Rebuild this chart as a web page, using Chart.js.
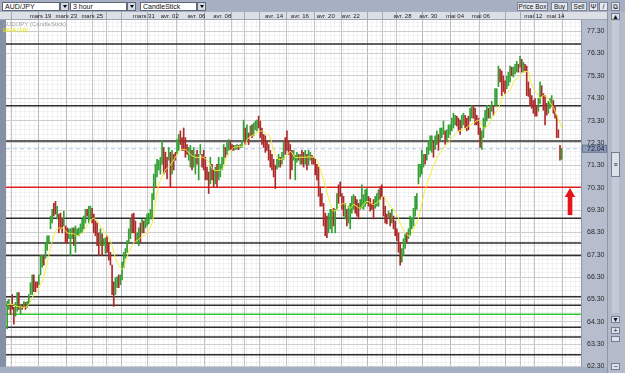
<!DOCTYPE html>
<html><head><meta charset="utf-8">
<script src="https://cdn.jsdelivr.net/npm/chart.js@4.4.1/dist/chart.umd.min.js"></script>
<style>
html,body{margin:0;padding:0;}
body{width:625px;height:373px;overflow:hidden;position:relative;background:#a7b0c3;font-family:'Liberation Sans',Arial,sans-serif;}
.tb{position:absolute;top:2px;height:9px;box-sizing:border-box;font-size:7px;line-height:7px;color:#111;white-space:nowrap;overflow:hidden;}
.dd{background:#fff;border:1px solid #5f687b;padding-left:2px;}
.ddb{background:#d6dae3;border:1px solid #5f687b;width:9px;}
.ddb::after{content:"";position:absolute;left:1.5px;top:2px;border-left:2.5px solid transparent;border-right:2.5px solid transparent;border-top:3px solid #000;}
.btn{background:#e6e9ef;border:1px solid #79839a;text-align:center;}
#wrap{position:absolute;left:0;top:12px;width:607px;height:361px;}
.lg{position:absolute;left:3px;font-size:6px;line-height:6px;font-family:'Liberation Sans',Arial,sans-serif;white-space:nowrap;}
#sb{position:absolute;left:607px;top:12px;width:18px;height:361px;background:#b3bbcb;border-left:1px solid #8c95a9;box-sizing:border-box;}
.sbx{position:absolute;left:3px;width:9px;box-sizing:border-box;background:#dde1e9;border:1px solid #737d93;font-size:7px;line-height:6px;text-align:center;color:#111;}
</style></head><body>
<div class="tb dd" style="left:2px;width:58px;">AUD/JPY</div><div class="tb ddb" style="left:60px;"></div>
<div class="tb dd" style="left:70px;width:57px;">3 hour</div><div class="tb ddb" style="left:127px;"></div>
<div class="tb dd" style="left:140px;width:57px;">CandleStick</div><div class="tb ddb" style="left:197px;"></div>
<div class="tb btn" style="left:517px;width:31px;font-size:6.5px;">Price Box</div>
<div class="tb btn" style="left:551px;width:17px;font-size:6.5px;">Buy</div>
<div class="tb btn" style="left:571px;width:16px;font-size:6.5px;">Sell</div>
<div class="tb btn" style="left:589px;width:9px;">Ψ</div>
<div class="tb btn" style="left:599px;width:9px;">/</div>
<div class="tb btn" style="left:611px;width:9px;">⧉</div>
<div id="wrap"><canvas id="c" width="607" height="361" style="width:607px;height:361px;display:block;"></canvas></div>
<div class="lg" style="top:21px;color:#9c9c9c;">AUD/JPY (CandleStick)</div>
<div class="lg" style="top:27px;color:#e4e400;">EMA (10)</div>
<div id="sb">
  <div class="sbx" style="top:1px;height:7px;">▲</div>
  <div style="position:absolute;left:4px;top:9px;width:7px;height:292px;background:#c3c9d5;"></div>
  <div class="sbx" style="top:140px;height:25px;line-height:24px;">≡</div>
  <div class="sbx" style="top:304px;height:7px;">▼</div>
  <div class="sbx" style="top:315px;height:7px;">+</div>
  <div class="sbx" style="top:324px;height:6px;"></div>
  <div class="sbx" style="top:351px;height:7px;">−</div>
</div>
<script>
// ---- data ----
const dayLabels = ['mars 19','mars 23','mars 25','','','mars 31','avr. 02','avr. 06','avr. 08','','','avr. 14','avr. 16','avr. 20','avr. 22','','','avr. 28','avr. 30','mai 04','mai 06','','','mai 12','mai 14'];
const dayStartBar = [3,19,36,52,60,69,85,102,119,135,143,152,168,185,201,217,226,234,250,267,284,300,309,317,334];
const priceTicks = [62.30,63.30,64.30,65.30,66.30,67.30,68.30,69.30,70.30,71.30,72.30,73.30,74.30,75.30,76.30,77.30];
const blackLevels = [76.73,73.97,72.39,68.93,67.83,67.27,65.42,65.04,64.06,63.62,62.83];
const redLevel = 70.32;
const greenLevel = 64.64;
const arrowMark = {bar: 338, tip: 70.02, shaftTop: 69.95, shaftBottom: 69.09};
const firstOpen = 64.25;
const highs = [
65.23,65.30,65.08,65.52,64.95,65.17,65.61,65.61,65.08,65.08,
65.21,65.17,65.21,65.52,66.05,66.40,66.40,66.09,66.09,66.40,
67.27,67.27,67.27,67.80,68.15,68.15,69.03,69.33,69.60,69.69,
69.47,69.12,69.16,68.94,69.25,68.59,68.50,68.46,68.46,68.50,
68.50,68.59,68.46,68.50,68.68,68.90,69.03,69.33,69.33,69.47,
69.47,69.38,69.12,68.81,68.72,68.28,68.46,68.24,68.02,68.06,
68.15,67.80,67.41,66.84,66.09,66.27,66.31,66.40,66.40,66.97,
67.41,67.58,67.93,68.46,68.90,69.12,69.16,68.81,68.28,68.50,
68.72,68.90,68.81,68.90,69.12,69.16,69.33,70.04,70.91,71.35,
71.57,71.53,71.66,72.40,72.10,71.88,71.66,72.10,71.88,71.97,
71.79,71.88,72.45,72.68,72.84,72.54,72.97,72.54,72.23,72.10,
72.19,71.97,72.10,71.79,71.97,71.79,72.23,71.79,71.97,71.66,
71.22,71.00,71.66,71.35,71.09,71.22,71.35,71.66,71.35,71.66,
72.23,72.10,72.32,72.45,72.40,72.23,72.19,72.19,72.23,72.19,
72.23,72.40,73.32,72.97,73.11,72.75,73.06,73.11,73.19,73.28,
73.32,73.50,73.28,72.97,72.68,72.62,72.40,72.23,71.97,71.79,
71.57,71.31,71.57,71.79,71.66,71.88,72.32,72.54,72.84,72.40,
72.23,71.97,71.97,71.75,71.88,71.79,71.79,71.97,71.88,71.97,
71.79,71.97,71.88,71.75,71.66,71.57,71.35,71.22,70.34,70.04,
69.60,69.16,69.03,69.16,69.33,69.33,69.38,69.33,70.04,70.43,
70.56,70.04,69.91,69.60,69.33,69.47,69.60,69.91,69.99,69.91,
69.77,69.60,69.77,70.43,69.99,70.21,70.26,69.91,69.82,69.60,
69.77,69.91,70.04,70.21,70.34,70.43,69.91,69.47,69.12,69.25,
69.16,69.33,69.03,68.81,68.46,68.28,67.84,67.58,68.02,68.24,
68.28,68.46,69.03,68.94,69.38,69.91,70.04,71.35,71.35,71.97,
71.79,71.79,72.10,72.40,72.62,72.62,72.40,72.62,72.84,72.68,
72.97,72.97,73.28,72.84,72.89,73.11,73.11,73.41,73.63,73.54,
73.50,73.41,73.32,73.54,73.63,73.54,73.41,73.50,73.85,73.98,
73.98,73.85,73.54,73.41,72.97,72.84,73.41,73.76,73.98,73.85,
73.98,74.16,73.98,74.73,74.73,75.74,75.60,75.52,75.30,75.08,
75.30,75.47,75.74,75.69,75.69,75.82,75.95,75.82,76.17,76.04,
75.91,75.82,75.74,75.03,74.73,74.42,74.20,74.29,73.98,74.29,
75.03,74.86,74.51,74.42,74.07,74.16,74.29,74.42,74.20,73.98,
73.54,72.89,72.19,72.06];
const lows = [
63.99,64.86,64.64,64.86,64.20,64.56,64.78,64.86,64.64,64.86,
64.95,64.86,64.95,65.08,65.52,65.52,65.65,65.65,65.83,65.96,
66.40,66.75,66.84,67.14,67.49,67.84,68.46,68.72,69.03,69.12,
68.90,68.28,68.46,68.28,68.59,67.84,67.80,68.02,67.27,68.02,
67.71,67.41,68.15,68.15,68.28,68.28,68.46,68.72,69.03,68.72,
68.90,68.72,68.28,68.15,67.71,67.27,67.71,67.27,67.71,67.36,
67.41,67.06,66.84,65.52,64.99,65.52,65.83,65.83,65.96,66.18,
66.71,67.14,67.41,67.84,68.02,68.28,68.28,67.84,67.84,67.71,
67.84,68.28,68.28,68.50,68.59,68.68,68.90,68.90,69.77,70.34,
70.78,71.09,70.91,71.35,70.91,71.00,70.69,71.53,70.34,70.91,
71.09,71.53,71.79,71.97,72.23,71.97,71.97,71.66,71.79,71.53,
71.22,71.09,71.22,70.91,71.35,70.65,71.79,71.22,71.09,70.65,
70.65,70.04,70.47,70.65,70.34,70.47,70.34,70.65,70.78,71.09,
71.35,71.66,71.79,71.97,72.01,71.97,71.97,72.01,72.01,72.01,
72.10,72.10,72.40,72.23,72.40,72.23,72.62,72.54,72.62,72.89,
72.84,72.97,72.54,72.23,72.10,71.88,71.97,71.53,71.22,71.09,
70.78,70.26,71.13,71.22,71.22,71.35,71.57,71.79,71.97,71.79,
70.69,71.09,71.53,70.65,71.44,71.53,71.35,71.35,71.22,71.35,
71.09,71.31,71.53,71.35,71.35,70.87,70.65,69.91,69.47,69.47,
68.59,68.15,68.06,68.28,68.46,68.28,68.59,68.28,69.33,69.60,
69.91,69.33,69.03,68.90,68.59,68.72,68.46,69.16,69.33,69.16,
69.03,68.90,69.33,69.38,69.33,69.47,69.60,69.47,69.25,69.33,
68.90,69.38,69.47,69.47,69.77,69.91,69.03,68.72,68.68,68.94,
68.59,68.72,68.46,68.15,67.93,67.41,66.84,66.97,67.27,67.58,
67.84,68.02,68.15,68.46,68.59,69.03,69.33,70.47,70.78,70.91,
71.22,71.35,71.53,71.79,71.97,71.88,71.66,72.01,72.23,71.97,
72.40,72.54,72.68,72.23,72.40,72.54,72.68,72.84,72.97,73.11,
73.06,72.84,72.68,72.97,73.11,72.97,72.84,72.89,73.28,73.41,
73.41,73.11,73.11,72.68,72.10,72.01,72.54,72.97,73.28,73.41,
73.41,73.72,73.54,73.98,73.98,74.82,75.03,74.42,74.60,74.51,
74.73,74.86,75.03,75.30,75.25,75.39,75.47,75.47,75.69,75.47,
75.47,75.52,74.42,74.38,73.98,73.85,73.63,73.50,73.50,73.72,
74.07,74.38,73.76,73.11,73.54,73.63,73.85,73.98,73.63,73.41,
72.54,72.54,71.53,71.57];
const closes = [
65.05,65.22,64.95,64.90,64.35,65.05,65.45,64.95,65.00,64.90,
65.15,64.92,65.18,65.45,65.95,66.30,66.00,65.92,65.86,66.32,
67.15,67.22,66.95,67.70,68.05,68.12,68.95,69.25,69.15,69.13,
69.40,68.60,68.50,68.45,68.65,67.95,67.85,68.40,68.42,68.45,
67.85,68.30,68.40,68.46,68.62,68.85,68.98,69.28,69.08,69.40,
69.44,68.85,68.40,68.25,67.85,67.45,68.30,67.55,67.95,68.00,
67.55,67.20,66.95,65.80,65.30,66.10,66.25,66.00,66.35,66.90,
67.35,67.52,67.88,68.40,68.80,68.45,68.35,68.00,68.22,68.45,
68.00,68.80,68.35,68.85,69.05,69.10,69.28,69.95,70.80,71.25,
71.45,71.50,71.60,72.30,71.10,71.05,70.80,71.60,70.60,71.85,
71.65,71.56,72.35,72.60,72.30,72.05,72.00,71.90,71.84,72.05,
72.10,71.20,71.60,71.72,71.45,71.70,72.15,71.30,71.15,70.80,
70.70,70.20,71.50,70.80,70.45,71.10,70.50,71.20,71.30,71.60,
72.15,71.75,72.25,72.40,72.10,72.02,71.99,72.15,72.20,72.05,
72.20,72.35,73.20,72.35,73.05,72.30,73.00,72.65,73.10,73.22,
73.28,73.05,72.65,72.30,72.15,72.05,71.99,71.60,71.30,71.15,
70.90,70.40,71.50,71.70,71.30,71.80,72.25,72.10,72.00,71.85,
71.30,71.15,71.60,71.70,71.82,71.58,71.75,71.45,71.30,71.90,
71.20,71.80,71.85,71.40,71.38,70.95,70.75,70.05,69.55,69.50,
68.70,68.30,68.15,69.05,69.25,69.30,69.20,69.28,69.95,69.93,
69.91,69.40,69.10,69.50,68.70,69.40,69.50,69.85,69.95,69.25,
69.10,69.00,69.70,69.80,69.95,70.15,70.20,69.55,69.40,69.35,
69.00,69.85,69.98,70.15,70.00,69.95,69.10,68.80,68.72,69.20,
68.65,69.25,68.55,68.25,68.00,67.50,67.00,67.50,67.95,68.15,
67.90,68.40,68.85,68.90,69.30,69.85,69.98,71.25,71.30,71.60,
71.75,71.40,72.05,72.35,72.55,72.58,71.75,72.55,72.80,72.05,
72.90,72.95,73.20,72.30,72.85,73.05,73.08,73.35,73.40,73.50,
73.10,72.90,72.75,73.45,73.58,73.05,72.95,72.91,73.80,73.92,
73.50,73.20,73.15,72.80,72.30,72.75,73.35,73.70,73.92,73.50,
73.90,74.10,73.60,74.65,74.70,75.65,75.10,74.70,74.62,74.55,
75.25,75.40,75.68,75.35,75.62,75.78,75.90,75.55,76.10,75.55,
75.85,75.58,74.55,74.45,74.05,73.90,73.70,73.55,73.52,74.20,
74.95,74.45,73.85,73.70,73.60,74.10,74.25,74.38,73.70,73.45,
72.65,72.60,71.60,72.04];
const emaBar = [0,3,6,10,12,14,16,18,20,22,24,26,28,30,32,34,36,38,40,42,44,46,48,50,52,54,56,58,60,62,64,66,69,71,73,76,78,80,84,87,89,91,93,95,98,101,104,107,110,113,116,118,121,124,128,130,131,134,136,140,143,144,147,150,153,155,158,159,161,163,167,170,173,177,184,186,188,190,192,194,196,198,202,206,208,212,216,220,224,226,230,233,236,239,241,243,245,247,249,251,253,255,257,259,261,263,265,267,269,271,274,277,280,283,285,286,289,291,292,295,297,298,301,303,304,307,309,310,313,314,316,319,320,322,325,326,328,330,332,333];
const emaValue = [65.08,65.08,64.99,64.95,64.99,65.21,65.52,65.65,65.96,66.31,66.97,67.58,68.15,68.46,68.50,68.46,68.28,68.24,68.24,68.15,68.24,68.37,68.59,68.81,68.94,68.81,68.59,68.37,68.15,67.93,67.41,66.97,66.66,66.97,67.41,67.84,67.93,68.06,68.28,68.72,69.60,70.43,70.78,71.09,71.31,71.66,71.97,72.01,71.79,71.66,71.66,71.66,71.44,71.09,71.09,71.22,71.53,71.88,72.10,72.14,72.23,72.45,72.62,72.75,72.84,72.75,72.54,72.23,71.79,71.57,71.66,71.92,71.66,71.66,71.66,71.53,71.13,70.65,70.12,69.60,69.25,69.33,69.60,69.38,69.55,69.38,69.69,69.55,69.77,69.91,69.47,69.25,68.72,68.28,68.15,68.24,68.59,68.94,69.60,70.21,70.65,71.09,71.44,71.75,71.97,72.19,72.32,72.54,72.68,72.84,72.89,73.06,73.19,73.32,73.11,72.97,73.11,73.41,73.54,73.85,74.29,74.42,74.60,74.82,75.03,75.25,75.39,75.47,75.47,75.16,74.73,74.42,74.29,74.42,74.29,74.11,73.89,73.54,73.19,72.97];

// ---- derived tables ----
const X_MIN = -0.72, X_MAX = 344.6, Y_MIN = 62.28, Y_MAX = 77.80;
const UP = 'rgb(52,160,52)', DOWN = 'rgb(172,42,42)';
const opens = closes.map((c, i) => i === 0 ? firstOpen : closes[i - 1]);
const candleColors = closes.map((c, i) => c >= opens[i] ? UP : DOWN);
const lastClose = closes[closes.length - 1];
const boundaries = dayStartBar.map(b => b - 0.5);
const labelTicks = [];
dayLabels.forEach((lab, i) => {
  if (!lab) return;
  const a = boundaries[i];
  const b = i + 1 < boundaries.length ? boundaries[i + 1] : X_MAX;
  labelTicks.push({value: (a + b) / 2, label: lab});
});
const yTickValues = priceTicks.concat([lastClose]).sort((a, b) => a - b);
const isLast = v => Math.abs(v - lastClose) < 1e-9;
const hLine = (v, color, width, dash, order) => ({
  type: 'line', data: [{x: X_MIN, y: v}, {x: X_MAX, y: v}], borderColor: color, borderWidth: width,
  borderDash: dash || [], pointRadius: 0, order: order
});

const datasets = [];
datasets.push({type: 'scatter', data: [{x: arrowMark.bar, y: arrowMark.tip}], pointStyle: 'triangle', pointRadius: 6,
  backgroundColor: '#e5141b', borderWidth: 0, order: 0});
datasets.push({type: 'bar', data: [{x: arrowMark.bar, y: [arrowMark.shaftBottom, arrowMark.shaftTop]}],
  backgroundColor: '#e5141b', barThickness: 4, borderWidth: 0, grouped: false, order: 0});
datasets.push({type: 'line', label: 'EMA (10)', data: emaBar.map((b, i) => ({x: b, y: emaValue[i]})),
  borderColor: '#f3f13a', borderWidth: 1, pointRadius: 0, tension: 0.35, order: 1});
datasets.push({type: 'bar', label: 'AUD/JPY', data: highs.map((h, i) => ({x: i, y: [lows[i], h]})),
  backgroundColor: candleColors, barThickness: 1, borderWidth: 0, grouped: false, order: 2});
datasets.push(hLine(lastClose, '#a9c7f0', 1, [4, 3], 3));
datasets.push(hLine(redLevel, '#e0201e', 1.5, null, 4));
datasets.push(hLine(greenLevel, '#33c733', 1.5, null, 4));
blackLevels.forEach(v => datasets.push(hLine(v, '#2e2e2e', 1.5, null, 4)));

const backdrop = {
  id: 'backdrop',
  beforeDraw(chart) {
    const {ctx, chartArea: a, scales} = chart;
    ctx.save();
    ctx.fillStyle = '#dcdfe6'; ctx.fillRect(0, 0, chart.width, a.top);
    ctx.fillStyle = '#ffffff'; ctx.fillRect(a.left, a.top, a.right - a.left, a.bottom - a.top);
    ctx.fillStyle = '#858fa6'; ctx.fillRect(0, a.top, a.left, a.bottom - a.top);
    ctx.fillStyle = '#b6becd'; ctx.fillRect(a.right, a.top, chart.width - a.right, a.bottom - a.top);
    ctx.fillStyle = '#8d97ac'; ctx.fillRect(a.right, a.top, 1, a.bottom - a.top);
    ctx.fillStyle = '#a0a6b3'; ctx.fillRect(0, a.top - 1, chart.width, 1);
    const yp = scales.y.getPixelForValue(lastClose);
    ctx.fillStyle = '#8e9ab6'; ctx.fillRect(a.right + 1, yp - 4, chart.width - a.right - 1, 8);
    ctx.strokeStyle = '#6d7894'; ctx.lineWidth = 1;
    ctx.strokeRect(a.right + 1.5, yp - 3.5, chart.width - a.right - 2, 7);
    ctx.restore();
  }
};

const smallFont = {family: "'Liberation Sans',Arial,sans-serif", size: 6};
new Chart(document.getElementById('c'), {
  type: 'bar',
  data: {datasets},
  options: {
    responsive: false, animation: false, devicePixelRatio: 1, events: [],
    layout: {padding: {left: 2, right: 0, top: 0, bottom: 0}},
    plugins: {legend: {display: false}, tooltip: {enabled: false}},
    scales: {
      x: {type: 'linear', position: 'top', min: X_MIN, max: X_MAX, bounds: 'data', offset: false, weight: 0,
        afterBuildTicks: s => { s.ticks = boundaries.map(v => ({value: v})); },
        afterFit: s => { s.height = 0; s.paddingLeft = 0; s.paddingRight = 0; },
        ticks: {display: false},
        grid: {color: '#c6c6c6', lineWidth: 1, drawTicks: true, tickLength: 8, tickColor: '#a3a8b4', offset: false},
        border: {display: false}},
      xt: {type: 'linear', position: 'top', min: X_MIN, max: X_MAX, bounds: 'data', weight: 10,
        afterBuildTicks: s => { s.ticks = labelTicks.map(t => ({value: t.value})); },
        afterFit: s => { s.height = 8; s.paddingLeft = 0; s.paddingRight = 0; },
        ticks: {autoSkip: false, maxRotation: 0, padding: 0, font: smallFont, color: '#1d1d1d',
          callback: (v, i) => labelTicks[i] ? labelTicks[i].label : ''},
        grid: {display: false, drawTicks: false},
        border: {display: false}},
      xm: {type: 'linear', position: 'top', min: X_MIN, max: X_MAX, bounds: 'data', weight: 0, z: -1,
        afterBuildTicks: s => { const t = []; for (let v = -0.5; v <= X_MAX; v += 2.8) t.push({value: v}); s.ticks = t; },
        afterFit: s => { s.height = 0; s.paddingLeft = 0; s.paddingRight = 0; },
        ticks: {display: false}, grid: {color: 'rgba(0,0,0,0.045)', drawTicks: false}, border: {display: false}},
      ym: {type: 'linear', position: 'left', min: Y_MIN, max: Y_MAX, bounds: 'data', z: -1,
        afterBuildTicks: s => { const t = []; for (let v = 62.50; v <= Y_MAX; v += 0.2) t.push({value: v}); s.ticks = t; },
        afterFit: s => { s.width = 0; s.paddingTop = 0; s.paddingBottom = 0; },
        ticks: {display: false}, grid: {color: 'rgba(0,0,0,0.045)', drawTicks: false}, border: {display: false}},
      y: {type: 'linear', position: 'right', min: Y_MIN, max: Y_MAX, bounds: 'data',
        afterBuildTicks: s => { s.ticks = yTickValues.map(v => ({value: v})); },
        afterFit: s => { s.width = 26; s.paddingTop = 0; s.paddingBottom = 0; },
        ticks: {autoSkip: false, padding: 6, crossAlign: 'near',
          font: {family: "'Liberation Sans',Arial,sans-serif", size: 7},
          color: c => (c.tick && isLast(c.tick.value)) ? '#0d1838' : '#2a2a2a',
          callback: v => Number(v).toFixed(2)},
        grid: {drawTicks: false, color: c => (c.tick && isLast(c.tick.value)) ? 'rgba(0,0,0,0)' : '#cdcdcd'},
        border: {display: false}}
    }
  },
  plugins: [backdrop]
});
</script>
</body></html>
